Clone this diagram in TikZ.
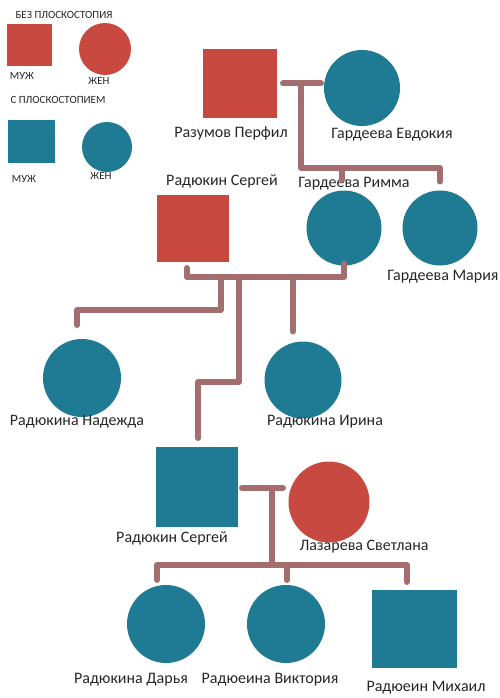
\documentclass[tikz,border=0pt]{standalone}
\usepackage{fontspec}
\setmainfont{Carlito}
\usetikzlibrary{calc,positioning}

\definecolor{noflat}{HTML}{C8493F}
\definecolor{flatfoot}{HTML}{1F7A93}
\definecolor{kin}{HTML}{A46E6E}

\begin{document}
\begin{tikzpicture}[x=1pt,y=-1pt]
        \tikzset{
                basic/.style   = {inner sep=0pt, outer sep=0pt},
                male/.style    = {basic, rectangle},
                female/.style  = {basic, circle},
                healthy/.style = {fill=noflat},
                flat/.style    = {fill=flatfoot},
                who/.style     = {basic, font=\fontsize{16}{18}\selectfont, text=black!85},
                legend/.style  = {basic, font=\fontsize{11}{12}\selectfont, text=black!85},
                kinline/.style = {draw=kin, line width=6pt, line cap=round, line join=round}
        }
        \useasboundingbox (0,0) rectangle (500,698);

        % legend
        \node[legend] (lg1) at (64,15) {БЕЗ ПЛОСКОСТОПИЯ};
        \node[male, healthy, minimum width=45pt, minimum height=42pt] (lgm1) at (29.5,45) {};
        \node[female, healthy, minimum size=52pt] (lgf1) at (105,49) {};
        \node[legend] (lgm1l) at (22,76) {МУЖ};
        \node[legend] (lgf1l) at (99,81) {ЖЕН};
        \node[legend] (lg2) at (58,100) {С ПЛОСКОСТОПИЕМ};
        \node[male, flat, minimum width=47pt, minimum height=43pt] (lgm2) at (31.5,141.5) {};
        \node[female, flat, minimum size=50pt] (lgf2) at (107,147) {};
        \node[legend] (lgm2l) at (24,179) {МУЖ};
        \node[legend] (lgf2l) at (101,176) {ЖЕН};

        % first generation
        \node[male, healthy, minimum width=74pt, minimum height=69pt] (perfil) at (240,83.5) {};
        \node[female, flat, minimum size=76pt] (evdokia) at (362,88) {};
        \node[who] (perfill) at (231,133) {Разумов Перфил};
        \node[who] (evdokial) at (392,135) {Гардеева Евдокия};

        % second generation
        \node[male, healthy, minimum width=72pt, minimum height=67pt] (sergey1) at (193,228.5) {};
        \node[female, flat, minimum size=75pt] (rimma) at (344,228) {};
        \node[female, flat, minimum size=75pt] (maria) at (440,228) {};
        \node[who] (sergey1l) at (222,181) {Радюкин Сергей};
        \node[who] (rimmal) at (354,184) {Гардеева Римма};
        \node[who] (marial) at (443,277) {Гардеева Мария};

        % third generation
        \node[female, flat, minimum size=78pt] (nadezhda) at (82,378) {};
        \node[female, flat, minimum size=77pt] (irina) at (303,380) {};
        \node[who] (nadezhdal) at (77,422) {Радюкина Надежда};
        \node[who] (irinal) at (325,422) {Радюкина Ирина};
        \node[male, flat, minimum width=82pt, minimum height=80pt] (sergey2) at (197,487) {};
        \node[female, healthy, minimum size=81pt] (svetlana) at (329,502) {};
        \node[who] (sergey2l) at (172,538) {Радюкин Сергей};
        \node[who] (svetlanal) at (364,547) {Лазарева Светлана};

        % fourth generation
        \node[female, flat, minimum size=78pt] (darya) at (166,624) {};
        \node[female, flat, minimum size=78pt] (viktoria) at (286,624) {};
        \node[male, flat, minimum width=85pt, minimum height=78pt] (mikhail) at (414.5,629) {};
        \node[who] (daryal) at (131,680) {Радюкина Дарья};
        \node[who] (viktorial) at (270,680) {Радюеина Виктория};
        \node[who] (mikhaill) at (426,688) {Радюеин Михаил};

        % marriage of Perfil and Evdokia, and their daughters
        \draw[kinline] ($(perfil.east)+(6,0)$) -- ($(perfil.east -| evdokia.west)+(-3,0)$);
        \coordinate (m1) at (301,83);
        \coordinate (f1) at (301,168);
        \draw[kinline] (m1) -- (f1) -| ($(maria.north)+(0,-9)$);
        \draw[kinline] ($(f1 -| rimma.north)+(-2,0)$) -- ++(0,12);

        % marriage of Sergey and Rimma, and their children
        \coordinate (m2) at (187,277);
        \draw[kinline] ($(sergey1.south)+(-6,6)$) |- (m2) -| ($(rimma.south)+(0,-2)$);
        \draw[kinline] (221,277) |- (77,310) -- ($(nadezhda.north)+(-5,-14)$);
        \draw[kinline] (239,277) |- (198,382) -- ($(sergey2.north)+(1,-9)$);
        \draw[kinline] (293,277) -- ($(irina.north)+(-10,-10)$);

        % marriage of Sergey and Svetlana, and their children
        \coordinate (m3) at (272,488);
        \coordinate (f3) at (272,565);
        \draw[kinline] ($(sergey2.east)+(4,1)$) -- ($(sergey2.east)+(45,1)$);
        \draw[kinline] (m3) -- (f3);
        \draw[kinline] ($(darya.north)+(-9,-5)$) |- (f3) -| ($(mikhail.north)+(-7.5,-8)$);
        \draw[kinline] ($(f3)+(15,0)$) -- ($(viktoria.north)+(1,-5)$);
\end{tikzpicture}
\end{document}
